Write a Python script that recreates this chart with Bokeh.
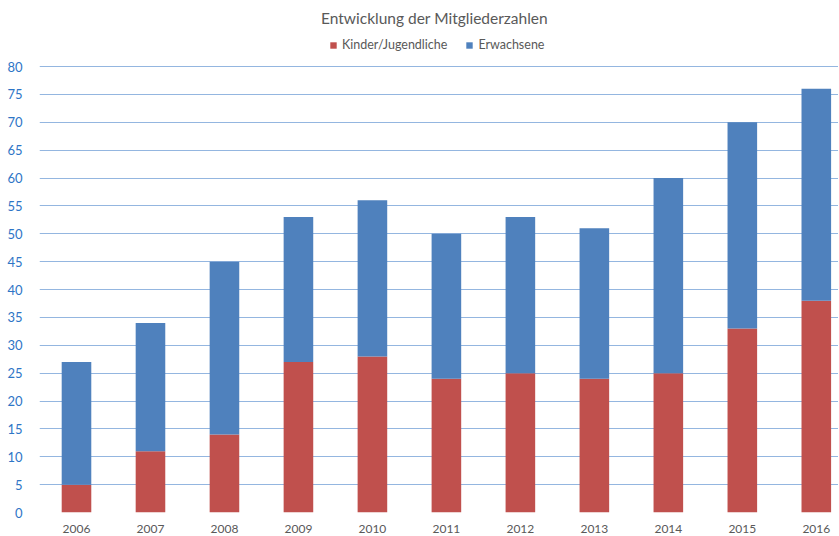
from bokeh.plotting import figure
from bokeh.models import ColumnDataSource, Legend, Range1d, FixedTicker, Label
from bokeh.embed import file_html
from bokeh.resources import INLINE

years = [2006, 2007, 2008, 2009, 2010, 2011, 2012, 2013, 2014, 2015, 2016]
kinder = [5, 11, 14, 27, 28, 24, 25, 24, 25, 33, 38]
totals = [27, 34, 45, 53, 56, 50, 53, 51, 60, 70, 76]
erwachsene = [t - k for t, k in zip(totals, kinder)]
y_ticks = list(range(0, 85, 5))
title_text = "Entwicklung der Mitgliederzahlen"

series = ["kinder", "erwachsene"]
labels = ["Kinder/Jugendliche", "Erwachsene"]
colors = ["#C0504D", "#4F81BD"]

src = ColumnDataSource(dict(year=years, kinder=kinder, erwachsene=erwachsene))

FONT = "Lato"
GRAY = "#595959"

# frame extends above the value axis to host title and legend
FRAME_H = 512
PX_PER_80 = 446
y_top = 80 * FRAME_H / PX_PER_80

p = figure(frame_width=799, frame_height=FRAME_H, output_backend="svg",
           toolbar_location=None,
           x_range=Range1d(2005.5, 2016.3), y_range=Range1d(0, y_top),
           min_border_left=39, min_border_right=0, min_border_bottom=20,
           min_border_top=0)

rs = p.vbar_stack(series, x="year", width=0.4, source=src, color=colors,
                  line_color=None)

legend = Legend(items=[(labels[0], [rs[0]]), (labels[1], [rs[1]])],
                orientation="horizontal", border_line_color=None,
                label_text_font=FONT, label_text_font_size="12.5px",
                label_text_color=GRAY, glyph_width=8, glyph_height=8,
                label_height=12, spacing=18, padding=0, margin=0,
                label_standoff=5, location=(290, 460),
                background_fill_alpha=0)
p.add_layout(legend, "center")

p.add_layout(Label(x=395, y=495, x_units="screen", y_units="screen",
                   text=title_text, text_align="center",
                   text_baseline="middle", text_font=FONT,
                   text_font_size="15.5px", text_color=GRAY))

p.xaxis.ticker = FixedTicker(ticks=years)
p.xaxis.major_label_overrides = {y: str(y) for y in years}
p.yaxis.ticker = FixedTicker(ticks=y_ticks)

for ax in (p.xaxis, p.yaxis):
    ax.axis_line_color = None
    ax.major_tick_line_color = None
    ax.minor_tick_line_color = None
    ax.major_label_text_font = FONT

p.xaxis.major_label_text_font_size = "12px"
p.yaxis.major_label_text_font_size = "13px"
p.xaxis.major_label_text_color = GRAY
p.yaxis.major_label_text_color = "#2E75C6"
p.xaxis.major_label_standoff = 6
p.yaxis.major_label_standoff = 11

p.xgrid.grid_line_color = None
p.ygrid.grid_line_color = "#94B6E0"
p.ygrid.grid_line_width = 1
p.outline_line_color = None

open("out.html", "w").write(file_html(p, INLINE))
